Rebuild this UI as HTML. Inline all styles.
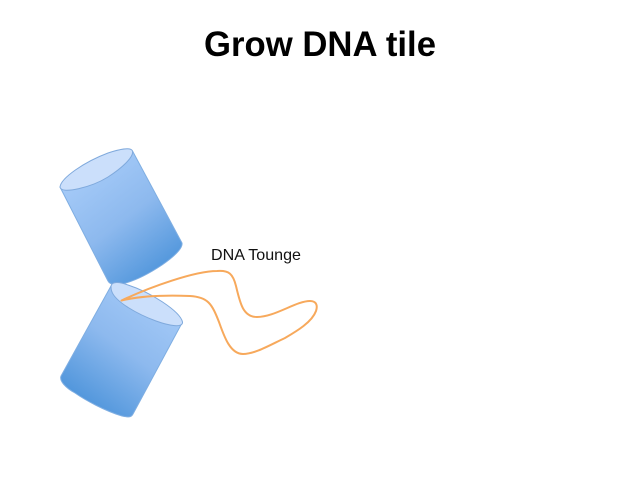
<!DOCTYPE html>
<html>
<head>
<meta charset="utf-8">
<style>
html,body{margin:0;padding:0;background:#fff;width:640px;height:480px;overflow:hidden}
svg{display:block}
</style>
</head>
<body>
<svg width="640" height="480" viewBox="0 0 640 480" xmlns="http://www.w3.org/2000/svg">
<defs>
<linearGradient id="g1" gradientUnits="userSpaceOnUse" x1="80" y1="170" x2="160" y2="275">
<stop offset="0" stop-color="#A6CBF8"/>
<stop offset="0.5" stop-color="#8DB9EE"/>
<stop offset="1" stop-color="#4F95DB"/>
</linearGradient>
<linearGradient id="g2" gradientUnits="userSpaceOnUse" x1="165" y1="295" x2="85" y2="405">
<stop offset="0" stop-color="#A6CBF8"/>
<stop offset="0.5" stop-color="#8DB9EE"/>
<stop offset="1" stop-color="#4F95DB"/>
</linearGradient>
</defs>
<text x="320" y="56" text-anchor="middle" font-family="'Liberation Sans',sans-serif" font-weight="700" font-size="35" textLength="232" lengthAdjust="spacingAndGlyphs" fill="#000">Grow DNA tile</text>

<path d="M60,187 L108,281 C110,285 116,285 122,284 C135,281 150,273 162,265 C172,258 183,249 182,243 L132.5,151 Z" fill="url(#g1)" stroke="#7FAEE2" stroke-width="1" stroke-linejoin="round"/>
<path d="M60,187 C61,178 84,162 108,153 C120,149 131,147 132.5,151 C134,157 122,168 108,177 C92,187 61,195 60,187 Z" fill="#CBDFFB" stroke="#7FA9DC" stroke-width="1"/>

<path d="M111,286 L61,376 C59,381 66,388 75,393 C85,400 105,411 122,416 C127,417 131,418 133,414 L182,323 Z" fill="url(#g2)" stroke="#7FAEE2" stroke-width="1" stroke-linejoin="round"/>
<path d="M111,286 C112,281 120,282 128,285 C150,292 180,311 182.5,322 C183,328 170,326 156,321 C137,314 116,302 112,292 C111,290 111,288 111,286 Z" fill="#CBDFFB" stroke="#7FA9DC" stroke-width="1"/>

<path d="M121.5,300.5 C150,287 195,271 217,271 C229,270 233,274 236,286 C240,303 243,317 257,317 C275,317 296,301 310,301 C316,301 318,305 316,311 C312,322 297,331 285,338 C270,345 255,354 243,354 C230,354 224,336 219,322 C212,304 208,297 190,296 C165,295 140,296 121.5,300.5 Z" fill="none" stroke="#F7A95C" stroke-width="2" stroke-linejoin="round"/>

<text x="211" y="260" font-family="'Liberation Sans',sans-serif" font-size="16" textLength="90" lengthAdjust="spacingAndGlyphs" fill="#111">DNA Tounge</text>
</svg>
</body>
</html>
